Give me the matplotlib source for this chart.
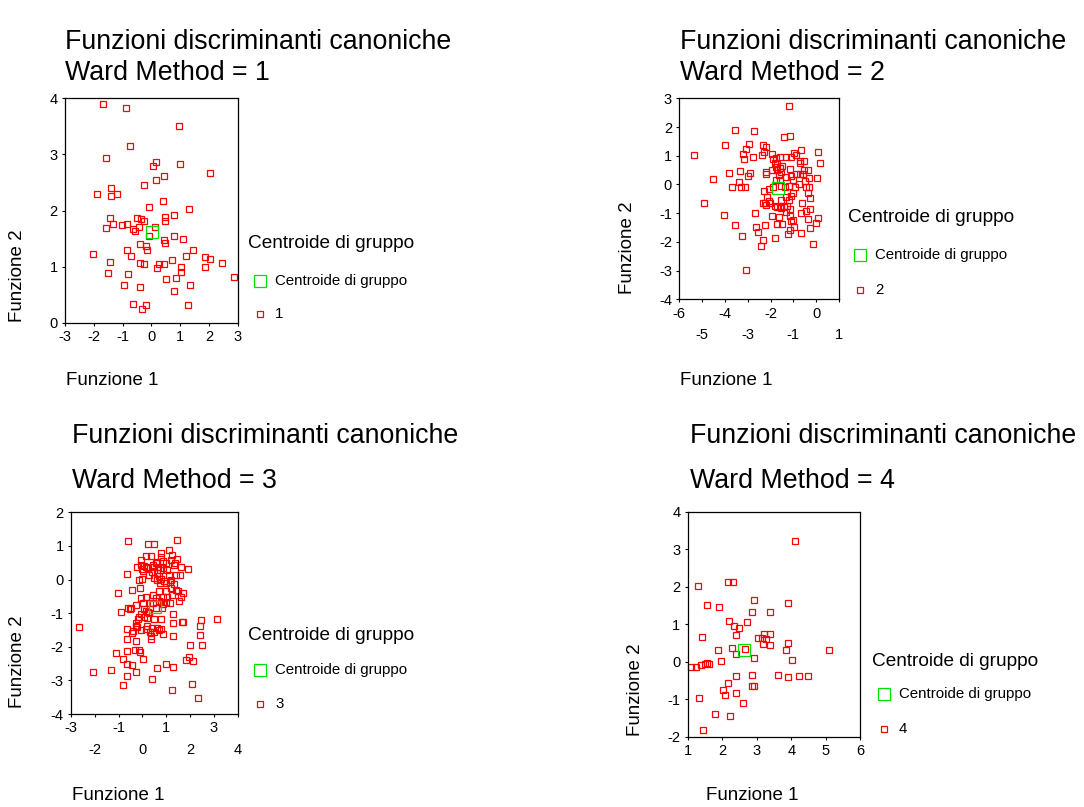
import matplotlib
matplotlib.use('Agg')
import matplotlib.pyplot as plt
from matplotlib.lines import Line2D

plt.rcParams['font.family'] = ['Liberation Sans', 'DejaVu Sans']
plt.rcParams['axes.unicode_minus'] = False

# --- data: scores on canonical functions, one cluster per panel ---
ward1_f1 = [-1.67, -0.89, 0.95, -0.75, -1.58, 0.15, 0.07, 1.00, 2.04, 0.44, 0.16, -0.25,
            -1.40, -1.90, -1.40, -1.21, 0.39, -0.07, 1.31, -1.44, 0.49, 0.80, -0.51, -0.36,
            -0.24, 0.49, -1.34, -1.01, -0.86, -0.44, -0.63, -0.58, -1.58, 0.12, -0.09, 0.80,
            1.10, 0.43, 0.49, -0.39, -0.17, -0.16, -0.86, 1.46, -2.04, -0.71, 1.22, 1.87,
            2.04, -1.45, -0.39, -0.24, 0.71, 0.25, 0.44, 2.46, 1.02, 0.20, 1.85, 1.02,
            -1.49, -0.80, 2.87, 0.52, 0.85, 0.79, 1.36, -0.94, -0.39, -0.63, -0.20, -0.34, 1.27]
ward1_f2 = [3.89, 3.82, 3.51, 3.15, 2.93, 2.86, 2.79, 2.82, 2.67, 2.61, 2.55, 2.46,
            2.40, 2.30, 2.26, 2.29, 2.17, 2.07, 2.03, 1.86, 1.89, 1.92, 1.86, 1.84,
            1.82, 1.81, 1.76, 1.74, 1.76, 1.70, 1.67, 1.64, 1.68, 1.71, 1.54, 1.54,
            1.49, 1.48, 1.42, 1.40, 1.37, 1.29, 1.30, 1.29, 1.23, 1.19, 1.19, 1.17,
            1.13, 1.09, 1.07, 1.05, 1.11, 1.04, 1.04, 1.07, 0.99, 0.97, 0.99, 0.90,
            0.88, 0.86, 0.82, 0.78, 0.80, 0.57, 0.68, 0.67, 0.63, 0.34, 0.32, 0.24, 0.32]
ward1_centroid = (0.02, 1.61)

ward2_f1 = [-1.18, -3.55, -2.72, -1.16, -1.41, -3.99, -2.95, -2.34, -2.21, -3.09, -2.27, -3.22,
            -2.78, -3.17, -2.39, -1.92, -5.36, 0.10, -0.68, -0.98, -1.31, -1.09, -0.87, -1.89,
            -1.75, -1.60, -0.73, -0.55, -0.70, -1.79, -1.70, 0.15, -1.75, -1.51, -1.60, -1.15,
            -1.94, -2.18, -1.70, -0.55, -0.38, -1.54, -3.83, -3.33, -2.90, -2.18, -1.64, -0.87,
            -0.73, -0.58, -3.00, -1.31, -1.09, -0.32, 0.04, -4.54, -3.39, -3.68, -3.29, -3.10,
            -1.78, -1.59, -1.02, -0.47, -0.76, -1.21, -1.89, -1.56, -1.38, -0.95, -0.45, -0.32,
            -2.29, -2.05, -0.36, -1.02, -1.31, -1.12, -2.15, -0.25, -1.53, -1.19, -2.07, -2.01,
            -2.26, -2.31, -2.18, -0.64, -4.93, -1.79, -1.60, -1.27, -1.70, -1.53, -1.41, -1.16,
            -0.29, -0.45, -2.66, -0.68, -1.31, -4.05, -1.92, -1.63, -1.16, -0.36, 0.09, -1.02,
            -1.12, 0.00, -1.73, -1.51, -3.55, -2.23, -2.62, -0.98, -1.15, -0.29, -2.56, -0.68,
            -1.24, -3.26, -1.79, -2.34, -0.13, -2.43, -3.06]
ward2_f2 = [2.72, 1.89, 1.85, 1.70, 1.66, 1.36, 1.41, 1.36, 1.32, 1.23, 1.14, 1.07,
            0.97, 0.90, 1.02, 1.07, 1.02, 1.14, 1.20, 1.11, 0.97, 0.97, 1.01, 0.89,
            0.93, 0.95, 0.82, 0.82, 0.74, 0.76, 0.72, 0.73, 0.62, 0.64, 0.57, 0.55,
            0.49, 0.45, 0.50, 0.50, 0.50, 0.42, 0.41, 0.48, 0.41, 0.35, 0.33, 0.35,
            0.35, 0.35, 0.28, 0.25, 0.28, 0.22, 0.22, 0.19, 0.08, -0.08, -0.08, -0.08,
            0.15, 0.14, 0.14, 0.11, 0.02, -0.04, -0.08, -0.06, -0.08, -0.08, -0.08, -0.08,
            -0.22, -0.16, -0.29, -0.29, -0.42, -0.41, -0.42, -0.46, -0.53, -0.53, -0.57, -0.63,
            -0.64, -0.66, -0.72, -0.66, -0.64, -0.74, -0.76, -0.76, -0.79, -0.83, -0.79, -0.87,
            -0.87, -0.91, -0.98, -0.98, -0.95, -1.07, -1.10, -1.14, -1.11, -1.20, -1.17, -1.25,
            -1.29, -1.34, -1.37, -1.37, -1.42, -1.42, -1.48, -1.48, -1.58, -1.51, -1.66, -1.70,
            -1.74, -1.78, -1.85, -1.93, -2.08, -2.16, -2.99]
ward2_centroid = (-1.67, -0.11)

ward3_f1 = [-0.59, 1.47, 0.22, 0.50, 1.13, 0.80, 1.25, 0.14, 0.35, 1.47, 0.80, 1.18,
            -0.04, 0.63, 0.55, 0.98, 0.85, 1.36, 1.33, 0.43, -0.04, 0.06, 0.15, -0.21,
            -0.01, 0.25, 0.46, 0.66, 0.88, 1.64, 1.92, 0.74, 1.02, 0.03, 0.41, 0.60,
            -0.64, 1.13, 1.43, 1.58, 0.29, 0.71, 0.48, 0.60, 0.76, -0.03, 1.19, -0.13,
            0.92, 1.16, 1.00, 1.34, 0.74, -0.11, 1.19, -1.01, -0.42, 1.40, 1.50, 0.98,
            0.69, 1.69, 0.43, 1.25, 0.15, 0.85, 1.62, 1.05, -0.08, 0.55, 1.54, 0.71,
            0.77, -0.25, 0.03, 0.31, 0.43, 1.15, 0.97, 0.85, 0.81, 0.56, -0.60, -0.52,
            -0.46, 0.07, 0.14, 0.24, -0.88, 0.29, -0.08, 1.30, -0.13, 0.07, 0.18, -0.20,
            0.49, 0.80, 3.12, 2.46, 1.68, 1.72, 1.30, -0.27, -0.29, 0.18, -0.22, 2.42,
            -2.66, 0.42, 0.60, -0.64, 0.14, 0.71, 0.80, -0.38, -0.08, -0.43, 0.31, 0.49,
            0.85, 0.35, 1.30, 2.41, -0.64, 0.34, -0.25, 1.99, 2.49, -0.32, -0.14, -0.11,
            -1.11, -0.64, 0.01, -0.83, 1.96, 1.83, 2.13, 0.97, -0.64, -0.42, 0.62, 1.30,
            -1.32, -2.09, -0.28, -0.64, 0.42, -0.83, 2.06, 1.25, 2.35]
ward3_f2 = [1.14, 1.18, 1.06, 1.06, 0.88, 0.79, 0.73, 0.69, 0.69, 0.62, 0.66, 0.59,
            0.57, 0.51, 0.49, 0.50, 0.55, 0.49, 0.44, 0.44, 0.42, 0.40, 0.38, 0.37,
            0.31, 0.34, 0.38, 0.36, 0.35, 0.37, 0.30, 0.29, 0.27, 0.25, 0.22, 0.19,
            0.15, 0.13, 0.12, 0.12, 0.13, 0.11, 0.04, 0.00, 0.01, 0.01, 0.00, -0.02,
            -0.05, -0.08, -0.11, -0.13, -0.09, -0.25, -0.25, -0.41, -0.31, -0.30, -0.33, -0.34,
            -0.34, -0.40, -0.46, -0.45, -0.53, -0.51, -0.51, -0.53, -0.55, -0.56, -0.63, -0.63,
            -0.67, -0.76, -0.70, -0.70, -0.69, -0.70, -0.68, -0.74, -0.85, -0.85, -0.85, -0.88,
            -0.85, -0.87, -0.93, -0.96, -0.96, -1.01, -1.04, -1.02, -1.10, -1.12, -1.13, -1.18,
            -1.18, -1.18, -1.16, -1.21, -1.25, -1.25, -1.29, -1.29, -1.39, -1.38, -1.42, -1.38,
            -1.41, -1.43, -1.45, -1.46, -1.48, -1.49, -1.47, -1.53, -1.50, -1.58, -1.56, -1.55,
            -1.61, -1.68, -1.68, -1.64, -1.76, -1.76, -1.83, -1.96, -1.96, -2.09, -2.09, -2.16,
            -2.19, -2.14, -2.35, -2.35, -2.29, -2.38, -2.42, -2.51, -2.52, -2.55, -2.64, -2.61,
            -2.68, -2.76, -2.74, -2.87, -2.96, -3.15, -3.10, -3.28, -3.52]
ward3_centroid = (0.53, -0.81)

ward4_f1 = [4.10, 2.18, 2.32, 1.29, 2.91, 3.90, 1.56, 1.92, 2.87, 3.38, 2.20, 2.72,
            2.35, 2.48, 1.40, 2.39, 3.03, 3.16, 3.22, 3.26, 3.38, 3.18, 3.38, 3.90,
            3.86, 5.08, 2.27, 1.88, 2.67, 2.39, 2.91, 1.97, 4.02, 1.55, 1.51, 1.61,
            1.39, 1.24, 1.10, 2.87, 3.63, 3.90, 4.21, 4.48, 2.39, 2.16, 2.86, 2.91,
            2.03, 2.08, 2.39, 1.33, 2.59, 1.80, 2.23, 1.45]
ward4_f2 = [3.22, 2.12, 2.12, 2.01, 1.66, 1.58, 1.52, 1.46, 1.34, 1.33, 1.10, 1.06,
            0.95, 0.89, 0.66, 0.71, 0.63, 0.63, 0.74, 0.61, 0.74, 0.49, 0.44, 0.51,
            0.31, 0.31, 0.38, 0.31, 0.34, 0.20, 0.11, 0.02, 0.05, -0.03, -0.06, -0.06,
            -0.08, -0.14, -0.14, -0.34, -0.34, -0.39, -0.37, -0.37, -0.37, -0.55, -0.63, -0.65,
            -0.75, -0.88, -0.83, -0.95, -1.09, -1.38, -1.44, -1.81]
ward4_centroid = (2.64, 0.32)

W, H = 1084, 807
fig = plt.figure(figsize=(W / 100, H / 100), dpi=100)


def fx(x):
    return x / W


def fy(y):
    return 1 - y / H


def add_axes_px(left, top, right, bottom):
    return fig.add_axes([fx(left), fy(bottom), (right - left) / W, (bottom - top) / H])


panels = [
    dict(label='1', f1=ward1_f1, f2=ward1_f2, cen=ward1_centroid, box=(65, 98.3, 237.7, 322.7),
         xlim=(-3, 3), ylim=(0, 4), xt=range(-3, 4), xt2=[],
         title=(65, 42, 73), xlab=(66, 380), ylab=(18, 276), leg=(248, 243, 260, 281, 314)),
    dict(label='2', f1=ward2_f1, f2=ward2_f2, cen=ward2_centroid, box=(679.3, 98.3, 839, 299.3),
         xlim=(-6, 1), ylim=(-4, 3), xt=[-6, -4, -2, 0], xt2=[-5, -3, -1, 1],
         title=(680, 42, 73), xlab=(680, 380), ylab=(628, 248), leg=(848, 218, 860, 255, 290)),
    dict(label='3', f1=ward3_f1, f2=ward3_f2, cen=ward3_centroid, box=(71, 512.3, 237.7, 714),
         xlim=(-3, 4), ylim=(-4, 2), xt=[-3, -1, 1, 3], xt2=[-2, 0, 2, 4],
         title=(72, 436, 481), xlab=(72, 796), ylab=(18, 662), leg=(248, 636, 260, 670, 704)),
    dict(label='4', f1=ward4_f1, f2=ward4_f2, cen=ward4_centroid, box=(687.7, 511.7, 860.3, 737),
         xlim=(1, 6), ylim=(-2, 4), xt=range(1, 7), xt2=[],
         title=(690, 436, 481), xlab=(706, 796), ylab=(635, 690), leg=(872, 662, 884, 694, 729)),
]

red = '#ff0000'
green = '#00e000'

for p in panels:
    ax = add_axes_px(*p['box'])
    ax.plot(p['f1'], p['f2'], linestyle='none', marker='s', markersize=4.5,
            markerfacecolor='none', markeredgecolor=red, markeredgewidth=0.9, clip_on=False)
    ax.plot([p['cen'][0]], [p['cen'][1]], linestyle='none', marker='s', markersize=8.5,
            markerfacecolor='none', markeredgecolor=green, markeredgewidth=0.9)
    ax.set_xlim(*p['xlim'])
    ax.set_ylim(*p['ylim'])
    ax.set_xticks(list(p['xt']))
    if p['xt2']:
        ax.set_xticks(p['xt2'], minor=True)
        ax.set_xticklabels([str(v) for v in p['xt2']], minor=True)
    ax.set_yticks(range(p['ylim'][0], p['ylim'][1] + 1))
    ax.tick_params(which='both', direction='out', length=2.2, width=0.8, labelsize=10.5,
                   top=False, right=False, pad=3)
    ax.tick_params(which='minor', pad=18.5)
    for s in ax.spines.values():
        s.set_linewidth(0.9)

    tx, ty1, ty2 = p['title']
    fig.text(fx(tx), fy(ty1), 'Funzioni discriminanti canoniche', fontsize=19.3,
             ha='left', va='center')
    fig.text(fx(tx), fy(ty2), 'Ward Method = ' + p['label'], fontsize=19.3,
             ha='left', va='center')
    fig.text(fx(p['xlab'][0]), fy(p['xlab'][1]), 'Funzione 1', fontsize=13.5,
             ha='left', va='center')
    fig.text(fx(p['ylab'][0]), fy(p['ylab'][1]), 'Funzione 2', fontsize=13.5,
             ha='center', va='center', rotation=90)

    lx, ly, mx, my1, my2 = p['leg']
    fig.text(fx(lx), fy(ly), 'Centroide di gruppo', fontsize=13.7, ha='left', va='center')
    fig.add_artist(Line2D([fx(mx)], [fy(my1)], transform=fig.transFigure, linestyle='none',
                          marker='s', markersize=8.5, markerfacecolor='none',
                          markeredgecolor=green, markeredgewidth=0.9))
    fig.text(fx(mx + 15), fy(my1), 'Centroide di gruppo', fontsize=10.8, ha='left', va='center')
    fig.add_artist(Line2D([fx(mx)], [fy(my2)], transform=fig.transFigure, linestyle='none',
                          marker='s', markersize=4.5, markerfacecolor='none',
                          markeredgecolor=red, markeredgewidth=0.9))
    fig.text(fx(mx + 15), fy(my2), p['label'], fontsize=10.8, ha='left', va='center')

fig.savefig('out.png', dpi=100)
